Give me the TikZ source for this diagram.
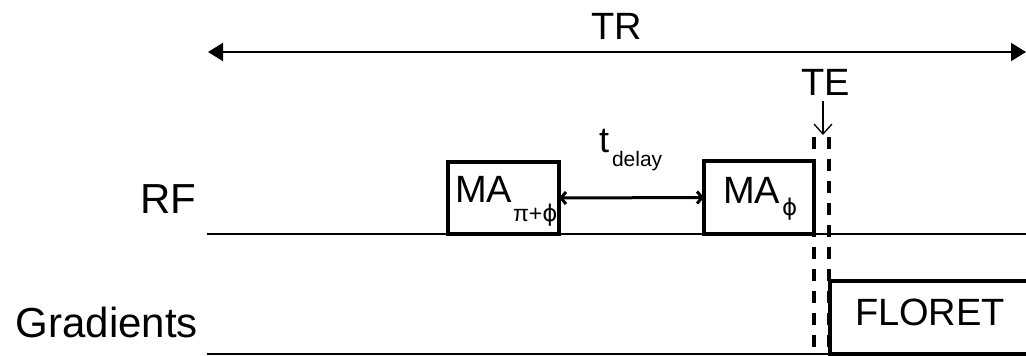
\documentclass[tikz,border=0pt]{standalone}
\usepackage{fontspec}
\setmainfont{Liberation Sans}
\newfontfamily\dvsans{DejaVu Sans}
\usetikzlibrary{arrows.meta}
\tikzset{
  lbl/.style={inner sep=0pt, outer sep=0pt},
  big/.style={lbl, font=\fontsize{38}{40}\selectfont},
  huge/.style={lbl, font=\fontsize{42}{44}\selectfont},
  subs/.style={lbl, font=\fontsize{23}{25}\selectfont},
  pulse/.style={draw, line width=3.4pt, inner sep=0pt, outer sep=0pt, anchor=north west},
  axisline/.style={line width=1.6pt},
  trarrow/.style={line width=2pt, {Triangle[length=15pt,width=18pt]}-{Triangle[length=15pt,width=18pt]}},
  tdarrow/.style={line width=3pt, {Straight Barb[length=5pt,width=12pt]}-{Straight Barb[length=5pt,width=12pt]}},
  tearrow/.style={line width=1.3pt, -{Straight Barb[length=10pt,width=18pt]}},
  teline/.style={line width=3.2pt, dash pattern=on 12pt off 10pt},
}
\newcommand{\phisym}{{\dvsans\char"03D5}}
\begin{document}
\begin{tikzpicture}[x=1pt,y=-1pt]
\useasboundingbox (0,0) rectangle (1026,356);
% TR
\coordinate (trL) at (208,52);
\coordinate (trR) at (1026,52);
\draw[trarrow] (trL) -- (trR);
\node[big, anchor=base] (tr) at (617,39) {TR};
% TE
\node[big, anchor=base] (te) at (826,95) {TE};
\coordinate (teA) at (823,101);
\coordinate (teB) at (823,135);
\draw[tearrow] (teA) -- (teB);
\coordinate (d1t) at (814,137);
\coordinate (d1b) at (814,356);
\coordinate (d2t) at (829,137);
\coordinate (d2b) at (829,356);
\draw[teline] (d1t) -- (d1b);
\draw[teline] (d2t) -- (d2b);
% RF row
\node[huge, anchor=base east] (rf) at (196,213) {RF};
\coordinate (rfL) at (207,234);
\coordinate (rfR) at (1026,234);
\draw[axisline] (rfL) -- (rfR);
\node[pulse, minimum width=111pt, minimum height=72pt] (ma1) at (448,162) {};
\node[big, anchor=base west] (ma1t) at (455,202) {MA};
\node[subs, anchor=base west] (ma1s) at (513,221) {π+\phisym};
\node[pulse, minimum width=110pt, minimum height=73pt] (ma2) at (704,161) {};
\node[big, anchor=base west] (ma2t) at (723,203) {MA};
\node[subs, anchor=base west] (ma2s) at (782,215) {\phisym};
\draw[tdarrow] (ma1.east) -- (ma2.west);
\node[lbl, font=\fontsize{36}{38}\selectfont, anchor=base west] (tt) at (599,152) {t};
\node[lbl, font=\fontsize{21}{23}\selectfont, anchor=base west] (td) at (612,166) {delay};
% Gradients row
\node[huge, anchor=base east] (gr) at (198,337) {Gradients};
\coordinate (grL) at (207,354);
\coordinate (grR) at (1026,354);
\draw[axisline] (grL) -- (grR);
\node[pulse, minimum width=210pt, minimum height=73pt] (fl) at (830,281) {};
\node[big, anchor=base west] (flt) at (855,325) {FLORET};
\end{tikzpicture}
\end{document}
